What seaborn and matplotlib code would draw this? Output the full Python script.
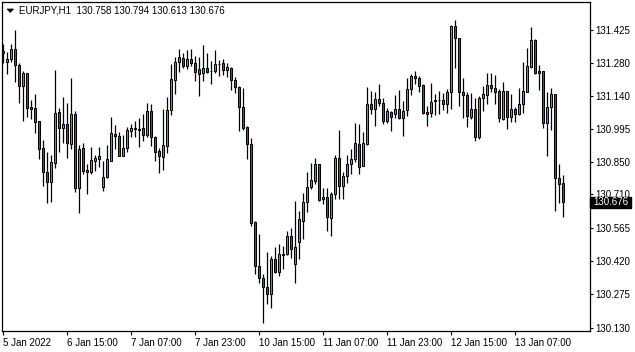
import matplotlib
matplotlib.use("Agg")
import matplotlib.pyplot as plt
import matplotlib.transforms as mtransforms
from matplotlib.patches import Polygon, Rectangle
import numpy as np
import pandas as pd
import seaborn as sns

# ---------------- data (EURJPY, H1) ----------------
opens = [131.335, 131.284, 131.297, 131.341, 131.273, 131.183, 131.237, 131.089, 131.084, 131.028,
         130.912, 130.806, 130.762, 130.845, 131.067, 130.997, 131.015, 130.928, 131.058, 130.739,
         130.910, 130.816, 130.809, 130.857, 130.865, 130.744, 130.787, 130.857, 130.973, 130.964,
         130.878, 130.910, 130.987, 130.993, 130.994, 130.999, 130.968, 131.073, 130.960, 130.899,
         130.874, 130.922, 131.076, 131.209, 131.287, 131.302, 131.268, 131.297, 131.280, 131.254,
         131.237, 131.258, 131.246, 131.245, 131.276, 131.280, 131.251, 131.258, 131.208, 131.176,
         131.089, 131.002, 130.928, 130.588, 130.400, 130.345, 130.306, 130.277, 130.429, 130.371,
         130.449, 130.450, 130.529, 130.406, 130.501, 130.596, 130.678, 130.741, 130.770, 130.842,
         130.688, 130.697, 130.609, 130.712, 130.870, 130.748, 130.791, 130.841, 130.862, 130.929,
         130.835, 130.929, 131.102, 131.080, 131.123, 131.106, 131.031, 131.067, 131.058, 131.080,
         131.041, 131.077, 131.167, 131.225, 131.215, 131.186, 131.068, 131.065, 131.115, 131.119,
         131.119, 131.102, 131.157, 131.442, 131.389, 131.157, 131.142, 131.048, 131.080, 130.961,
         131.128, 131.142, 131.186, 131.171, 131.160, 131.038, 131.160, 131.048, 131.080, 131.058,
         131.102, 131.157, 131.266, 131.382, 131.247, 131.247, 131.022, 131.089, 131.147, 130.780,
         130.758]
highs = [131.364, 131.331, 131.364, 131.425, 131.280, 131.247, 131.239, 131.121, 131.147, 131.029,
         130.947, 130.894, 130.881, 131.251, 131.084, 131.132, 131.106, 131.215, 131.073, 130.925,
         130.932, 130.842, 130.918, 130.881, 130.918, 130.857, 130.925, 131.045, 131.012, 130.983,
         130.968, 131.002, 131.016, 131.029, 131.041, 131.060, 131.109, 131.103, 130.964, 130.910,
         131.080, 131.132, 131.277, 131.309, 131.341, 131.324, 131.338, 131.341, 131.312, 131.309,
         131.360, 131.326, 131.290, 131.338, 131.295, 131.299, 131.280, 131.266, 131.219, 131.181,
         131.173, 131.007, 130.954, 130.594, 130.538, 130.364, 130.458, 130.442, 130.480, 130.494,
         130.485, 130.552, 130.562, 130.681, 130.639, 130.717, 130.809, 130.845, 130.870, 130.843,
         130.736, 130.736, 130.722, 130.881, 130.990, 130.806, 130.881, 130.906, 131.022, 131.016,
         130.983, 131.176, 131.160, 131.157, 131.190, 131.128, 131.084, 131.074, 131.142, 131.164,
         131.116, 131.218, 131.232, 131.247, 131.225, 131.189, 131.094, 131.193, 131.147, 131.160,
         131.152, 131.168, 131.447, 131.469, 131.392, 131.218, 131.154, 131.150, 131.128, 131.138,
         131.181, 131.237, 131.237, 131.229, 131.168, 131.200, 131.161, 131.145, 131.092, 131.174,
         131.287, 131.348, 131.437, 131.386, 131.273, 131.248, 131.157, 131.174, 131.148, 130.841,
         130.794]
lows = [131.283, 131.232, 131.287, 131.200, 131.109, 131.031, 131.048, 131.039, 130.978, 130.862,
        130.748, 130.671, 130.678, 130.826, 130.896, 130.932, 130.870, 130.906, 130.722, 130.630,
        130.799, 130.710, 130.799, 130.813, 130.831, 130.726, 130.783, 130.855, 130.909, 130.877,
        130.876, 130.896, 130.961, 130.961, 130.918, 130.944, 130.961, 130.920, 130.855, 130.804,
        130.816, 130.889, 131.057, 131.147, 131.244, 131.261, 131.255, 131.270, 131.205, 131.138,
        131.203, 131.239, 131.190, 131.239, 131.226, 131.229, 131.222, 131.164, 131.150, 130.987,
        130.990, 130.862, 130.572, 130.364, 130.323, 130.149, 130.233, 130.214, 130.367, 130.356,
        130.384, 130.446, 130.435, 130.326, 130.427, 130.514, 130.635, 130.732, 130.754, 130.683,
        130.668, 130.552, 130.530, 130.688, 130.688, 130.690, 130.761, 130.799, 130.852, 130.799,
        130.833, 130.925, 131.060, 131.007, 131.096, 131.016, 131.022, 130.987, 131.041, 131.038,
        130.965, 131.052, 131.142, 131.190, 131.157, 131.058, 131.009, 131.048, 131.055, 131.058,
        131.077, 131.065, 131.080, 131.261, 131.096, 131.041, 131.002, 131.036, 130.944, 130.949,
        131.074, 131.102, 131.154, 131.103, 131.026, 131.034, 130.994, 131.026, 131.026, 131.055,
        131.063, 131.154, 131.261, 131.234, 131.164, 130.997, 130.878, 130.990, 130.638, 130.671,
        130.613]
closes = [131.324, 131.299, 131.341, 131.271, 131.180, 131.237, 131.087, 131.083, 131.026, 130.906,
          130.806, 130.762, 130.849, 131.063, 131.000, 131.016, 130.932, 131.058, 130.739, 130.906,
          130.813, 130.809, 130.860, 130.868, 130.877, 130.784, 130.862, 130.976, 130.965, 130.878,
          130.912, 130.990, 130.999, 130.999, 130.991, 130.970, 131.073, 130.958, 130.896, 130.878,
          130.923, 131.077, 131.210, 131.284, 131.306, 131.270, 131.297, 131.280, 131.241, 131.232,
          131.258, 131.244, 131.245, 131.276, 131.278, 131.251, 131.266, 131.208, 131.176, 131.089,
          131.000, 130.928, 130.587, 130.400, 130.345, 130.306, 130.277, 130.429, 130.371, 130.449,
          130.447, 130.529, 130.471, 130.480, 130.601, 130.675, 130.741, 130.773, 130.842, 130.686,
          130.697, 130.613, 130.712, 130.870, 130.748, 130.790, 130.842, 130.862, 130.932, 130.828,
          130.932, 131.102, 131.080, 131.123, 131.106, 131.031, 131.073, 131.045, 131.080, 131.041,
          131.074, 131.167, 131.225, 131.215, 131.183, 131.065, 131.061, 131.113, 131.119, 131.120,
          131.102, 131.157, 131.442, 131.389, 131.157, 131.142, 131.052, 131.080, 130.961, 131.128,
          131.145, 131.186, 131.171, 131.157, 131.041, 131.160, 131.048, 131.080, 131.060, 131.102,
          131.160, 131.268, 131.382, 131.239, 131.239, 131.022, 131.089, 131.147, 130.780, 130.754,
          130.676]

x_tick_pos = [0, 16, 32, 48, 64, 80, 96, 112, 128]
x_tick_labels = ["5 Jan 2022", "6 Jan 15:00", "7 Jan 07:00", "7 Jan 23:00", "10 Jan 15:00",
                 "11 Jan 07:00", "11 Jan 23:00", "12 Jan 15:00", "13 Jan 07:00"]
y_ticks = [131.425, 131.280, 131.140, 130.995, 130.850, 130.710, 130.565, 130.420, 130.275, 130.130]
title = "EURJPY,H1  130.758 130.794 130.613 130.676"
last_price = 130.676

df = pd.DataFrame({"open": opens, "high": highs, "low": lows, "close": closes})
df["idx"] = np.arange(len(df))
df["bull"] = df["close"] >= df["open"]

# ---------------- style ----------------
sns.set_style("white")
plt.rcParams["font.family"] = ["Liberation Sans", "DejaVu Sans"]

W, H = 635, 352
fig = plt.figure(figsize=(W / 100, H / 100), dpi=100)
ax = fig.add_axes([2 / W, 1 - 331 / H, 588 / W, 329 / H])

GREEN = "#33c233"
RED = "#e31b1b"

# wicks
ax.vlines(df["idx"], df["low"], df["high"], color="black", linewidth=0.9, zorder=2)
# bodies
body_bottom = np.minimum(df["open"], df["close"])
body_height = np.abs(df["close"] - df["open"])
colors = np.where(df["bull"], GREEN, RED)
ax.bar(df["idx"], body_height, bottom=body_bottom, width=0.55, color=colors,
       edgecolor="black", linewidth=0.75, zorder=3)

ax.set_xlim(-0.25, 146.75)
ax.set_ylim(130.116, 131.547)

for s in ax.spines.values():
    s.set_color("black")
    s.set_linewidth(0.9)

ax.set_xticks(x_tick_pos)
ax.set_xticklabels(x_tick_labels, ha="left")
ax.tick_params(axis="x", direction="out", length=3, width=0.8, pad=2,
               labelsize=7, colors="black", bottom=True)
ax.yaxis.tick_right()
ax.set_yticks(y_ticks)
ax.set_yticklabels([f"{v:.3f}" for v in y_ticks])
ax.tick_params(axis="y", direction="out", length=2, width=0.8, pad=1.5,
               labelsize=7, colors="black", right=True, left=False)
ax.set_xlabel("")
ax.set_ylabel("")

# current price label box
trans = mtransforms.blended_transform_factory(ax.transAxes, ax.transData)
box_h = 0.0245
ax.add_patch(Rectangle((1.0, last_price - box_h), 41 / 588, 2 * box_h, transform=trans,
                       facecolor="black", edgecolor="black", clip_on=False, zorder=10))
ax.text(1.0 + 3 / 588, last_price, f"{last_price:.3f}", transform=trans, color="white",
        fontsize=7, va="center", ha="left", zorder=11, clip_on=False)

# title with triangle
fig.patches.append(Polygon([(7 / W, 1 - 9 / H), (13.5 / W, 1 - 9 / H), (10.25 / W, 1 - 12.5 / H)],
                           closed=True, transform=fig.transFigure, facecolor="black",
                           edgecolor="black", linewidth=0.5))
fig.text(19 / W, 1 - 10.5 / H, title, fontsize=7, va="center", ha="left", color="black")

fig.savefig("out.png", dpi=100, facecolor="white")
